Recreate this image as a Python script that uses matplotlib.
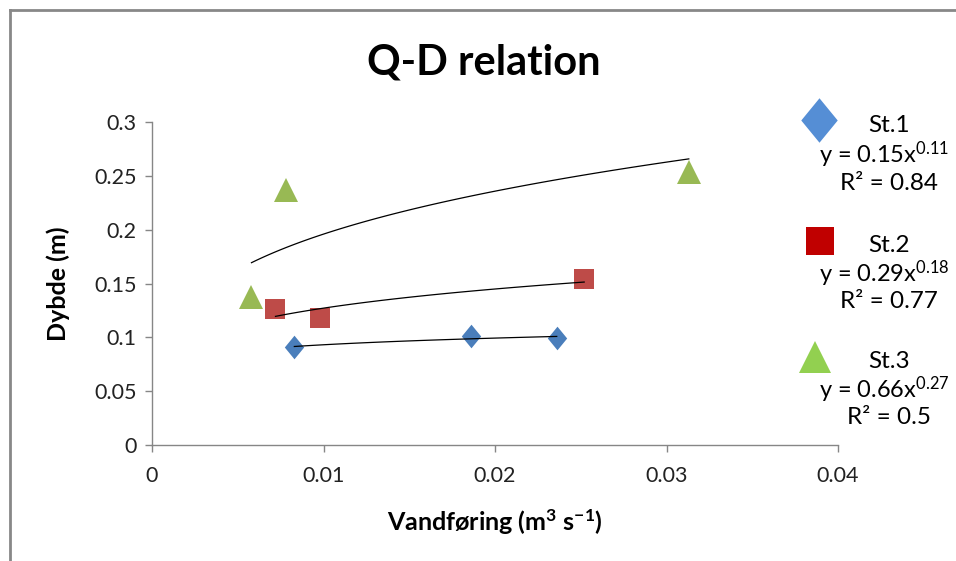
import numpy as np
import matplotlib
matplotlib.use("Agg")
import matplotlib.pyplot as plt
from matplotlib.lines import Line2D

plt.rcParams['font.family'] = ['Lato', 'DejaVu Sans']
plt.rcParams['mathtext.fontset'] = 'custom'
plt.rcParams['mathtext.rm'] = 'Lato'
plt.rcParams['mathtext.bf'] = 'Lato:bold'
plt.rcParams['mathtext.it'] = 'Lato:italic'

# data (discharge m3/s, depth m)
st1_q = [0.0083, 0.0186, 0.0236]
st1_d = [0.091, 0.101, 0.099]
st2_q = [0.0072, 0.0098, 0.0252]
st2_d = [0.126, 0.118, 0.154]
st3_q = [0.0058, 0.0078, 0.0313]
st3_d = [0.137, 0.237, 0.254]

names = ['St.1', 'St.2', 'St.3']
equations = ['y = 0.15x$^{0.11}$', 'y = 0.29x$^{0.18}$', 'y = 0.66x$^{0.27}$']
r2_labels = ['R² = 0.84', 'R² = 0.77', 'R² = 0.5']

x_ticks = [0, 0.01, 0.02, 0.03, 0.04]
y_ticks = [0, 0.05, 0.1, 0.15, 0.2, 0.25, 0.3]

diamond = [(0, 1), (0.82, 0), (0, -1), (-0.82, 0), (0, 1)]
markers = [diamond, 's', '^']
plot_colors = ['#4A7EBB', '#BE4B48', '#98B954']
legend_colors = ['#558ED5', '#C00000', '#92D050']
plot_sizes = [17, 14.5, 17]
legend_sizes = [32, 20, 23]

W, H = 956, 561
fig = plt.figure(figsize=(W / 100, H / 100), dpi=100)
ax = fig.add_axes([152 / W, 1 - 445 / H, (838 - 152) / W, (445 - 122) / H])

series = [(st1_q, st1_d), (st2_q, st2_d), (st3_q, st3_d)]
for i, (q, d) in enumerate(series):
    q = np.array(q)
    d = np.array(d)
    # power trendline, fitted like Excel does (least squares in log space)
    b, ln_a = np.polyfit(np.log(q), np.log(d), 1)
    xx = np.linspace(q.min(), q.max(), 100)
    ax.plot(xx, np.exp(ln_a) * xx ** b, color='black', lw=0.9, zorder=3)
    ax.plot(q, d, linestyle='none', marker=markers[i], markersize=plot_sizes[i],
            color=plot_colors[i], markeredgewidth=0, zorder=2, clip_on=False)

ax.set_xlim(0, 0.04)
ax.set_ylim(0, 0.3)
ax.set_xticks(x_ticks)
ax.set_yticks(y_ticks)
ax.set_xticklabels(['0', '0.01', '0.02', '0.03', '0.04'])
ax.set_yticklabels(['0', '0.05', '0.1', '0.15', '0.2', '0.25', '0.3'])
for s in ['top', 'right']:
    ax.spines[s].set_visible(False)
for s in ['left', 'bottom']:
    ax.spines[s].set_color('#868686')
    ax.spines[s].set_linewidth(1.0)
ax.tick_params(axis='both', colors='#868686', length=5, width=1.0,
               labelsize=15.5, labelcolor='#222222')
ax.tick_params(axis='x', pad=10)
ax.tick_params(axis='y', pad=6)

ax.set_xlabel('Vandføring (m$^{\\mathbf{3}}$ s$^{\\mathbf{-1}}$)',
              fontsize=18, fontweight='bold')
ax.set_ylabel('Dybde (m)', fontsize=18, fontweight='bold')
ax.xaxis.set_label_coords((495 - 152) / 686, (445 - 522) / 323)
ax.yaxis.set_label_coords((58 - 152) / 686, 0.5)
ax.xaxis.label.set_va('center')
ax.yaxis.label.set_va('center')

fig.text(484 / W, 1 - 62 / H, 'Q-D relation', fontsize=30, fontweight='bold',
         ha='center', va='center')

# legend on the right side
leg_marker_pos = [(819, 120), (820, 241), (815, 357)]
leg_top = [126, 245, 361]
for i in range(3):
    mx, my = leg_marker_pos[i]
    fig.add_artist(Line2D([mx / W], [1 - my / H], marker=markers[i],
                          markersize=legend_sizes[i], color=legend_colors[i],
                          markeredgewidth=0, linestyle='none',
                          transform=fig.transFigure))
    ty = leg_top[i]
    fig.text(889 / W, 1 - ty / H, names[i], fontsize=17.5, ha='center', va='center')
    fig.text(884 / W, 1 - (ty + 29) / H, equations[i], fontsize=17,
             ha='center', va='center')
    fig.text(889 / W, 1 - (ty + 57) / H, r2_labels[i], fontsize=17.5,
             ha='center', va='center')

# chart area frame (only top and left visible in the picture)
fig.add_artist(Line2D([9.5 / W, 9.5 / W], [0, 1 - 10 / H], color='#888888',
                      lw=2, transform=fig.transFigure))
fig.add_artist(Line2D([9.5 / W, 1], [1 - 10 / H, 1 - 10 / H], color='#888888',
                      lw=2, transform=fig.transFigure))

fig.savefig('out.png', dpi=100)
